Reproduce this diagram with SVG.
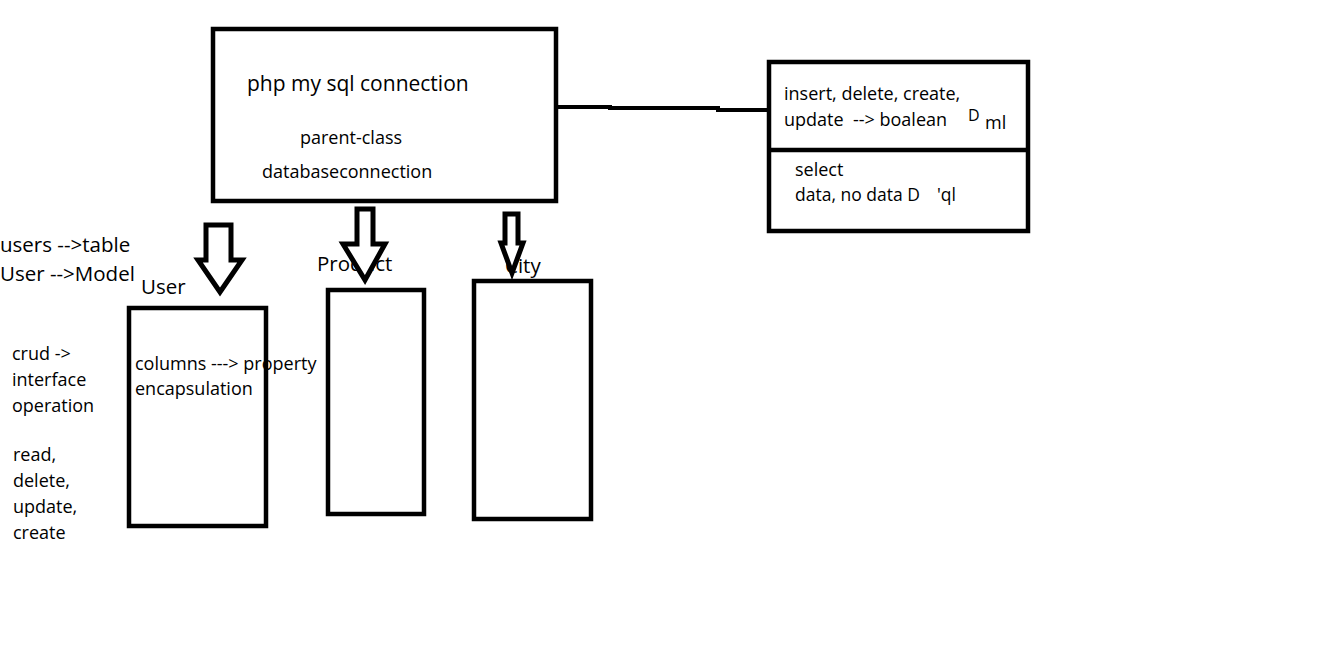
<svg xmlns="http://www.w3.org/2000/svg" width="1337" height="646" viewBox="0 0 1337 646">
<style>
.box{fill:#fff;stroke:#000;stroke-width:4.5}
.arr{fill:#fff;stroke:#000;stroke-width:5;stroke-linejoin:miter}
.t{font-family:"Open Sans","Noto Sans","Liberation Sans",sans-serif;fill:#000;font-size:18px}
.l{font-size:20.5px}
.h{font-size:21px}
.con{fill:none;stroke:#000;stroke-width:4}
</style>
<rect width="1337" height="646" fill="#fff"/>
<g id="connectors">
<polyline class="con" points="558,107 610,107 610,108 718,108 718,110 770,110"/>
</g>
<g id="db-connection">
<rect class="box" x="213" y="29" width="343" height="172"/>
<text class="t h" x="247" y="91">php my sql connection</text>
<text class="t" x="300" y="144">parent-class</text>
<text class="t" x="262" y="178">databaseconnection</text>
</g>
<g id="operations">
<rect class="box" x="769" y="62" width="259" height="169"/>
<line x1="769" y1="150" x2="1028" y2="150" stroke="#000" stroke-width="4.5"/>
<text class="t" x="784" y="100">insert, delete, create,</text>
<text class="t" x="784" y="126" xml:space="preserve">update  --&gt; boalean</text>
<text class="t" x="968" y="121" style="font-size:16px">D</text>
<text class="t" x="985" y="129">ml</text>
<text class="t" x="795" y="176">select</text>
<text class="t" x="795" y="201" style="font-size:17.5px">data, no data D</text>
<text class="t" x="937" y="201" style="font-size:17.5px">'ql</text>
</g>
<g id="notes">
<text class="t l" x="0" y="252">users --&gt;table</text>
<text class="t l" x="0" y="281">User --&gt;Model</text>
<text class="t" x="12" y="360">crud -&gt;</text>
<text class="t" x="12" y="386">interface</text>
<text class="t" x="12" y="412">operation</text>
<text class="t" x="13" y="461">read,</text>
<text class="t" x="13" y="487">delete,</text>
<text class="t" x="13" y="513">update,</text>
<text class="t" x="13" y="539">create</text>
</g>
<g id="user">
<text class="t l" x="141" y="294">User</text>
<rect class="box" x="129" y="308" width="137" height="218"/>
<text class="t" x="135" y="370">columns ---&gt; property</text>
<text class="t" x="135" y="395">encapsulation</text>
</g>
<g id="product">
<text class="t l" x="317" y="271">Product</text>
<rect class="box" x="328" y="290" width="96" height="224"/>
</g>
<g id="city">
<text class="t l" x="505" y="273">City</text>
<rect class="box" x="474" y="281" width="117" height="238"/>
</g>
<g id="arrows">
<path class="arr" d="M206,225 H231 V260 H242 L220,292 L198,260 H206 Z"/>
<path class="arr" d="M357,209 H373 V244 H385 L365,280 L343,244 H357 Z"/>
<path class="arr" d="M505,214 H518 V243 H523 L512,273 L501,243 H505 Z"/>
</g>
</svg>
